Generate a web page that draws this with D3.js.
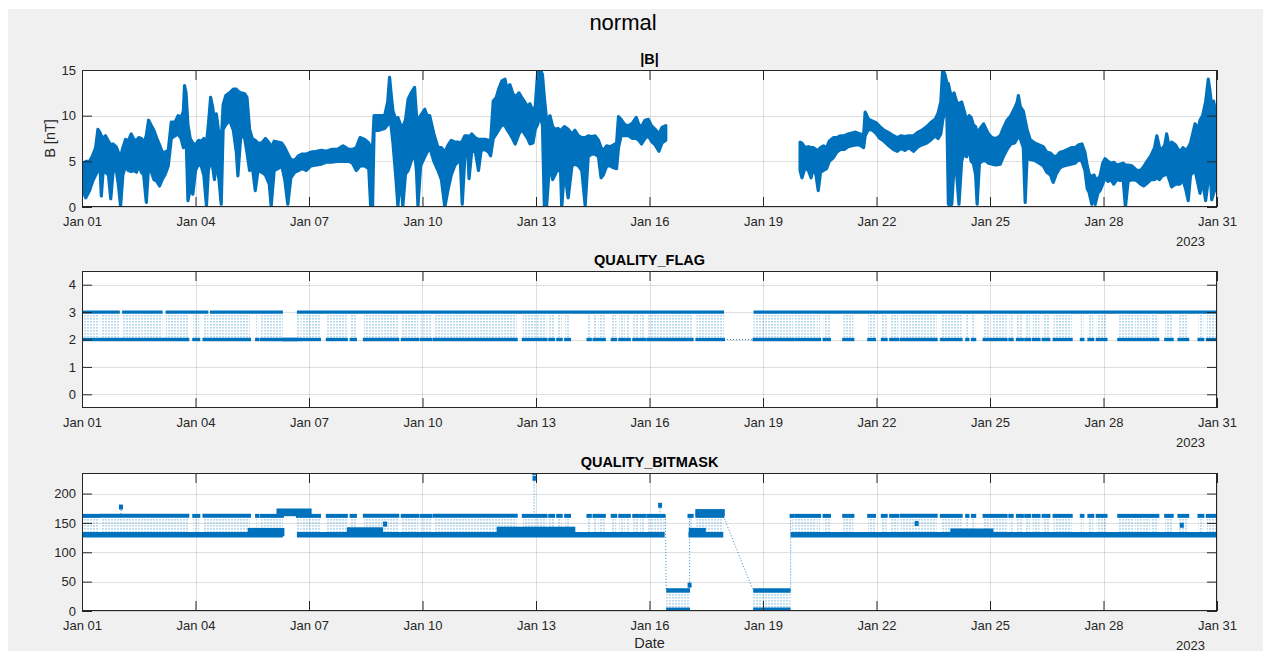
<!DOCTYPE html>
<html><head><meta charset="utf-8">
<script src="https://cdn.jsdelivr.net/npm/d3@7"></script>
<style>
body{margin:0;background:#fff;}
svg{display:block;font-family:"Liberation Sans",Arial,Helvetica,sans-serif;}
</style>
</head><body>
<svg id="c" width="1271" height="659"></svg>
<script>
// ---------------- DATA ----------------
// x tick positions (days since 2023-01-01) and labels
const xTickDays = [0,3,6,9,12,15,18,21,24,27,30];
const xTickLabels = ["Jan 01","Jan 04","Jan 07","Jan 10","Jan 13","Jan 16","Jan 19","Jan 22","Jan 25","Jan 28","Jan 31"];
const yearLabel = "2023";
const bTicks = [0,5,10,15];
const flagTicks = [0,1,2,3,4];
const maskTicks = [0,50,100,150,200];

// |B| envelope [day, low, high] (nT) before the data gap
const bSegmentA = [
[0.00,2.5,4.9],[0.05,1.5,4.8],[0.10,1.0,5.0],[0.20,1.8,5.0],[0.28,2.8,5.6],[0.36,3.5,6.5],[0.42,4.0,8.5],[0.47,5.0,8.2],[0.51,1.2,7.8],[0.56,4.0,7.5],
[0.62,3.8,7.8],[0.70,3.5,7.2],[0.76,0.9,6.8],[0.82,3.8,6.9],[0.90,4.2,6.6],[0.96,2.5,6.0],[1.02,0.1,5.5],[1.08,3.5,6.5],[1.15,4.5,7.4],[1.22,4.0,7.2],
[1.30,3.9,8.0],[1.37,4.0,7.4],[1.44,3.8,7.3],[1.50,4.6,7.6],[1.57,3.8,7.5],[1.63,3.5,7.0],[1.70,0.5,7.8],[1.76,4.5,9.5],[1.82,4.0,9.0],[1.90,3.0,8.4],
[1.98,2.8,7.5],[2.05,2.3,6.8],[2.12,3.0,6.0],[2.20,3.6,6.0],[2.28,4.5,6.2],[2.36,7.5,9.3],[2.46,7.8,9.3],[2.54,8.0,10.0],[2.62,7.5,9.8],[2.68,6.5,10.5],
[2.71,9.0,13.3],[2.75,8.0,12.5],[2.80,0.7,9.0],[2.86,2.0,7.5],[2.93,1.4,7.0],[3.00,4.0,6.8],[3.08,4.7,7.3],[3.15,4.5,7.2],[3.22,3.5,7.5],[3.29,0.15,7.0],
[3.34,4.0,9.0],[3.40,5.0,12.0],[3.45,4.5,11.0],[3.50,3.0,9.5],[3.55,5.0,10.2],[3.62,3.0,8.0],[3.68,0.3,7.0],[3.73,8.5,11.2],[3.80,9.0,12.2],[3.90,9.5,12.5],
[4.00,8.4,12.9],[4.08,6.0,12.9],[4.12,3.4,12.7],[4.20,8.0,12.5],[4.30,7.5,12.4],[4.36,6.0,12.0],[4.43,4.0,8.5],[4.50,4.5,7.5],[4.58,1.8,7.3],[4.65,4.0,7.0],
[4.75,3.8,7.0],[4.85,3.5,7.5],[4.95,2.5,7.0],[5.00,0.1,6.5],[5.08,4.0,7.2],[5.18,4.2,7.1],[5.28,4.5,7.0],[5.36,3.0,6.5],[5.44,0.3,5.8],[5.52,3.2,5.2],
[5.62,3.8,5.1],[5.72,4.0,5.6],[5.82,4.2,5.8],[5.93,4.0,5.8],[6.05,4.5,6.0],[6.20,4.6,6.1],[6.33,4.7,6.2],[6.45,4.9,6.1],[6.59,4.9,6.3],[6.75,5.0,6.3],
[6.90,5.0,6.7],[7.05,5.0,6.3],[7.15,4.8,6.3],[7.25,4.0,6.5],[7.35,4.5,7.6],[7.47,4.5,7.4],[7.58,4.2,7.0],[7.63,0.1,6.5],[7.68,0.1,6.5],[7.72,8.4,10.0],
[7.85,8.4,10.0],[8.00,8.6,10.0],[8.08,9.0,11.5],[8.13,10.0,14.2],[8.18,8.5,12.0],[8.22,7.0,10.5],[8.30,3.0,9.5],[8.35,0.1,9.8],[8.42,3.6,9.0],[8.48,0.1,8.8],
[8.55,3.6,9.5],[8.62,4.0,11.8],[8.70,5.0,12.5],[8.79,6.0,13.1],[8.84,4.0,10.0],[8.88,0.1,9.5],[8.95,4.5,10.0],[9.06,5.5,10.7],[9.12,6.0,10.0],[9.19,6.5,10.0],
[9.30,5.0,8.0],[9.41,4.0,6.5],[9.50,3.0,6.5],[9.59,0.0,6.0],[9.68,2.0,6.8],[9.76,3.5,7.3],[9.86,4.6,7.1],[9.95,5.0,7.1],[10.00,5.0,7.0],[10.05,0.3,7.2],
[10.12,5.5,7.8],[10.20,6.0,7.8],[10.23,3.1,7.6],[10.30,6.0,8.0],[10.39,6.2,7.6],[10.48,4.0,7.4],[10.55,6.2,7.4],[10.65,6.3,7.4],[10.75,6.0,7.3],[10.80,5.6,7.2],
[10.87,7.5,11.6],[10.95,8.0,12.0],[11.02,8.5,13.0],[11.10,9.0,13.8],[11.18,8.9,14.0],[11.23,8.5,13.0],[11.31,8.0,13.4],[11.38,7.5,12.5],[11.45,6.9,12.0],[11.55,8.0,12.5],
[11.62,8.5,12.0],[11.70,8.0,11.5],[11.78,7.5,11.0],[11.84,6.9,11.3],[11.92,7.0,10.5],[11.98,8.5,11.0],[12.04,9.0,14.5],[12.10,10.0,15.2],[12.17,9.0,14.5],[12.22,0.15,12.0],
[12.28,0.1,9.5],[12.33,3.0,9.8],[12.37,5.0,10.0],[12.44,3.0,8.8],[12.50,3.5,8.5],[12.58,4.2,8.6],[12.65,3.8,8.3],[12.68,0.0,8.5],[12.75,4.0,8.8],[12.85,1.0,8.5],
[12.95,4.5,8.0],[13.03,4.7,8.4],[13.12,4.5,7.8],[13.21,4.0,7.6],[13.30,0.15,7.6],[13.38,5.5,7.8],[13.47,5.8,7.7],[13.56,5.8,7.8],[13.65,5.5,7.3],[13.72,3.2,6.5],
[13.78,3.5,6.2],[13.87,4.5,6.7],[13.96,4.5,6.6],[14.05,4.3,6.8],[14.13,4.2,7.0],[14.18,6.5,9.9],[14.25,7.8,9.6],[14.35,7.8,9.0],[14.44,7.8,8.9],[14.55,7.5,9.2],
[14.65,7.5,9.8],[14.72,7.3,9.0],[14.79,6.9,8.8],[14.88,7.5,9.5],[14.97,7.8,9.6],[15.05,7.2,8.9],[15.15,6.8,8.5],[15.25,6.1,8.0],[15.33,7.0,8.7],[15.43,7.3,8.9]
];
// |B| envelope [day, low, high] (nT) after the data gap
const bSegmentB = [
[18.98,4.0,7.1],[19.03,3.2,7.0],[19.11,4.3,6.5],[19.20,4.0,6.6],[19.27,3.2,6.5],[19.33,4.3,6.5],[19.40,3.5,6.3],[19.46,1.8,6.2],[19.52,3.8,6.5],[19.60,4.0,6.7],
[19.68,4.2,6.5],[19.75,5.0,7.2],[19.86,5.4,7.6],[19.95,6.0,7.6],[20.05,6.3,7.8],[20.15,6.3,7.8],[20.25,6.6,8.0],[20.35,6.7,8.1],[20.45,6.8,8.2],[20.55,6.8,8.0],
[20.66,6.5,7.9],[20.70,7.8,10.4],[20.79,8.5,9.6],[20.90,8.4,9.4],[21.00,8.0,9.2],[21.09,7.5,8.8],[21.20,7.2,8.4],[21.30,6.8,8.2],[21.45,6.3,7.8],[21.55,6.1,7.6],
[21.65,6.4,7.8],[21.75,6.2,7.7],[21.85,6.5,7.8],[21.98,6.1,7.8],[22.10,6.6,8.2],[22.20,6.8,8.4],[22.33,7.0,8.8],[22.45,7.4,9.3],[22.55,7.8,9.6],[22.63,7.5,10.3],
[22.70,8.0,11.5],[22.75,9.5,15.1],[22.81,10.5,14.5],[22.86,10.2,13.6],[22.90,0.3,13.5],[22.95,0.2,12.5],[22.99,0.3,12.0],[23.05,4.5,12.5],[23.12,3.5,11.5],[23.18,0.3,11.3],
[23.25,5.0,11.5],[23.32,6.0,10.5],[23.38,5.5,9.5],[23.45,6.5,10.0],[23.50,5.0,9.8],[23.56,4.8,9.0],[23.62,3.5,8.8],[23.66,0.3,8.0],[23.72,4.8,8.5],[23.83,5.1,9.1],
[23.90,5.0,8.5],[23.96,4.8,8.0],[24.05,4.7,7.6],[24.15,4.6,7.5],[24.27,4.7,7.8],[24.35,5.5,8.6],[24.45,6.3,9.5],[24.55,6.9,10.0],[24.65,7.0,10.8],[24.72,7.5,11.5],
[24.75,8.0,12.2],[24.80,7.5,11.0],[24.88,6.5,10.5],[24.93,0.5,9.5],[24.98,5.5,8.5],[25.06,5.2,7.4],[25.18,5.1,7.0],[25.30,4.8,6.8],[25.41,4.5,6.6],[25.50,3.8,6.0],
[25.60,3.5,5.9],[25.67,2.7,5.6],[25.75,3.6,5.5],[25.85,4.3,6.0],[25.95,4.5,6.1],[26.05,4.6,6.3],[26.15,4.7,6.5],[26.25,4.8,6.5],[26.35,5.2,6.8],[26.43,5.0,6.9],
[26.51,4.0,6.0],[26.57,2.0,4.5],[26.62,1.6,3.6],[26.69,0.3,3.3],[26.75,1.4,3.5],[26.78,0.3,3.2],[26.85,1.5,3.0],[26.91,1.8,3.4],[26.98,2.5,4.8],[27.04,3.2,5.3],
[27.12,2.8,5.0],[27.20,3.0,4.8],[27.27,2.5,4.9],[27.35,3.0,4.6],[27.45,2.9,4.7],[27.52,3.0,4.8],[27.58,0.0,4.6],[27.65,2.8,4.6],[27.75,3.0,4.5],[27.88,2.9,4.0],
[27.98,2.5,4.0],[28.06,2.3,4.4],[28.15,2.6,5.0],[28.25,3.0,5.6],[28.35,3.0,6.5],[28.41,3.2,7.8],[28.48,3.0,6.5],[28.55,3.4,6.3],[28.62,3.5,6.8],[28.67,3.8,8.0],
[28.74,3.0,6.5],[28.80,2.2,7.1],[28.90,2.5,6.8],[29.02,2.5,6.0],[29.10,3.0,6.5],[29.17,2.0,6.2],[29.24,0.7,6.5],[29.30,3.5,7.0],[29.42,4.0,9.1],[29.50,2.5,8.5],
[29.55,1.5,9.5],[29.62,2.8,10.0],[29.70,0.7,11.5],[29.77,3.0,14.0],[29.82,4.0,12.5],[29.86,0.8,11.0],[29.91,1.5,11.6],[29.96,2.0,10.5],[30.00,3.5,9.0]
];

// QUALITY_FLAG: spans [startDay, endDay]
const flagThreeSpans = [[0,1.0],[1.06,2.13],[2.21,3.34],[3.38,5.31],[5.68,16.97],[17.75,30]];
const flagTwoOnlySpans = [[5.31,5.68]];
const flagMixedSpans = [
[0.02,0.46],[0.50,2.81],[2.94,3.10],[3.21,4.44],[4.60,4.66],[4.72,5.78],[5.80,6.29],[6.47,7.00],[7.10,7.24],[7.45,8.36],
[8.45,8.89],[8.95,9.24],[9.30,11.49],[11.65,12.28],[12.35,12.48],[12.56,12.68],[12.77,12.90],[13.36,13.45],[13.52,13.61],[13.65,13.82],
[14.00,14.12],[14.20,14.35],[14.40,14.48],[14.57,14.70],[14.75,14.88],[14.94,16.14],[16.24,16.97],[17.75,18.80],[18.85,19.38],[19.42,19.51],
[19.60,19.77],[20.12,20.39],[20.78,20.96],[21.14,21.27],[21.36,21.58],[21.64,22.59],[22.70,23.25],[23.37,23.43],[23.52,23.61],[23.83,24.00],
[24.05,24.44],[24.51,24.60],[24.71,24.87],[24.93,25.06],[25.13,25.31],[25.39,25.57],[25.68,26.16],[26.40,26.47],[26.60,26.73],[26.82,27.08],
[27.39,27.79],[27.83,28.01],[28.05,28.23],[28.27,28.45],[28.63,28.83],[28.98,29.24],[29.51,29.64],[29.73,30.00]
];
// dotted connection across the data gap [day0, v0, day1, v1]
const flagLinks = [[16.97,2,17.75,2]];

// QUALITY_BITMASK
const maskBaseLevel = [130];
const maskUpperLevel = [162];
const maskBaseSpans = [[0,5.31],[5.68,15.40],[16.03,16.95],[18.73,30]];
// solid blocks [day0, day1, low, high]
const maskBlocks = [
[4.42,5.31,130,139],[7.04,7.92,130,140],[11.00,13.00,130,141],[16.08,16.45,130,139],[22.99,24.05,130,138],
[5.18,6.03,164,172],[16.25,16.95,164,171]
];
// mixed low blocks [day0, day1, low, high]
const maskLowBlocks = [[15.44,16.07,2,35],[17.74,18.73,2,35]];
// isolated points [day, value]
const maskPoints = [[1.03,177],[8.01,148],[11.95,236],[11.96,226],[15.28,180],[16.06,44],[22.06,149],[29.07,146]];
// dotted connections [day0, v0, day1, v1]
const maskLinks = [[1.03,177,1.03,162],[11.95,236,11.95,162],[15.28,180,15.28,162],[15.42,162,15.44,35],[16.06,44,16.06,162],[16.95,162,17.74,35],[18.73,35,18.73,162]];

// ---------------- DRAWING ----------------
const BLUE = "#0072BD", INK = "#262626";
const svg = d3.select("#c");
const T0 = Date.UTC(2023,0,1);
const toDate = d => new Date(T0 + d*864e5);
const x = d3.scaleUtc().domain([toDate(0), toDate(30)]).range([82, 1217]);
const X = d => x(toDate(d));
const L = 82, R = 1217;

svg.append("rect").attr("x",8).attr("y",9).attr("width",1255).attr("height",642).attr("fill","#f0f0f0");

const defs = svg.append("defs");
const pat = defs.append("pattern").attr("id","hatch").attr("patternUnits","userSpaceOnUse")
  .attr("width",3).attr("height",3);
pat.append("rect").attr("x",0.5).attr("y",0).attr("width",1).attr("height",1.6).attr("fill",BLUE).attr("opacity",0.55);

svg.append("text").attr("x",623).attr("y",30).attr("text-anchor","middle")
  .attr("font-size",22).attr("fill","#000").text("normal");

function panel(top, h, domain, ticks, title, idx){
  const y = d3.scaleLinear().domain(domain).range([top+h, top]);
  const g = svg.append("g");
  g.append("rect").attr("x",L).attr("y",top).attr("width",R-L).attr("height",h).attr("fill","#fff");
  // grid
  g.selectAll(".gx").data(xTickDays).join("line")
    .attr("x1",d=>Math.round(X(d))+0.5).attr("x2",d=>Math.round(X(d))+0.5)
    .attr("y1",top).attr("y2",top+h).attr("stroke",INK).attr("stroke-opacity",0.15);
  g.selectAll(".gy").data(ticks).join("line")
    .attr("y1",d=>Math.round(y(d))+0.5).attr("y2",d=>Math.round(y(d))+0.5)
    .attr("x1",L).attr("x2",R).attr("stroke",INK).attr("stroke-opacity",0.15);
  defs.append("clipPath").attr("id","clip"+idx).append("rect")
    .attr("x",L).attr("y",top).attr("width",R-L).attr("height",h);
  const data = g.append("g").attr("clip-path",`url(#clip${idx})`);
  // axes
  const ax = svg.append("g");
  ax.append("g").attr("transform",`translate(0,${top+h})`)
    .call(d3.axisBottom(x).tickValues(xTickDays.map(toDate)).tickFormat((d,i)=>xTickLabels[i]).tickSizeInner(-10).tickSizeOuter(0).tickPadding(10));
  ax.append("g").attr("transform",`translate(0,${top})`)
    .call(d3.axisTop(x).tickValues(xTickDays.map(toDate)).tickFormat("").tickSizeInner(-10).tickSizeOuter(0));
  ax.append("g").attr("transform",`translate(${L},0)`)
    .call(d3.axisLeft(y).tickValues(ticks).tickFormat(d3.format("d")).tickSizeInner(-10).tickSizeOuter(0).tickPadding(6));
  ax.append("g").attr("transform",`translate(${R},0)`)
    .call(d3.axisRight(y).tickValues(ticks).tickFormat("").tickSizeInner(-10).tickSizeOuter(0));
  ax.selectAll(".domain").remove();
  ax.selectAll(".tick line").attr("stroke",INK);
  ax.selectAll("text").attr("font-size",13).attr("fill",INK).attr("font-family",'"Liberation Sans",Arial,sans-serif');
  ax.append("rect").attr("x",L+0.5).attr("y",top+0.5).attr("width",R-L-1).attr("height",h-1)
    .attr("fill","none").attr("stroke",INK).attr("stroke-width",1);
  ax.append("text").attr("x",1205).attr("y",top+h+38.5).attr("text-anchor","end")
    .attr("font-size",13).attr("fill",INK).text(yearLabel);
  svg.append("text").attr("x",(L+R)/2).attr("y",top-6).attr("text-anchor","middle")
    .attr("font-size",14.5).attr("font-weight","bold").attr("fill","#000").text(title);
  return {y, data};
}

// ----- panel 1: |B|
{
  const {y, data} = panel(70, 137, [0,15], bTicks, "|B|", 1);
  const area = d3.area().x(d=>X(d[0])).y0(d=>y(d[1])).y1(d=>y(d[2]));
  [bSegmentA, bSegmentB].forEach(seg=>{
    data.append("path").attr("d",area(seg)).attr("fill",BLUE).attr("stroke",BLUE)
      .attr("stroke-width",3.2).attr("stroke-linejoin","round");
  });
  svg.append("text").attr("transform","translate(55,138.5) rotate(-90)").attr("text-anchor","middle")
    .attr("font-size",14.5).attr("fill",INK).text("B [nT]");
}

function intersect(a, b){
  const out=[];
  a.forEach(s=>b.forEach(t=>{const s0=Math.max(s[0],t[0]), s1=Math.min(s[1],t[1]); if(s1>s0) out.push([s0,s1]);}));
  return out;
}

// ----- panel 2: QUALITY_FLAG
{
  const {y, data} = panel(271, 137, [-0.5,4.5], flagTicks, "QUALITY_FLAG", 2);
  intersect(flagMixedSpans, flagThreeSpans).forEach(s=>{
    data.append("rect").attr("x",X(s[0])).attr("width",Math.max(1,X(s[1])-X(s[0])))
      .attr("y",y(3)+2).attr("height",y(2)-y(3)-4).attr("fill","url(#hatch)");
  });
  flagLinks.forEach(k=>{
    data.append("line").attr("x1",X(k[0])).attr("y1",y(k[1])).attr("x2",X(k[2])).attr("y2",y(k[3]))
      .attr("stroke",BLUE).attr("stroke-dasharray","1,2").attr("stroke-opacity",0.8);
  });
  flagThreeSpans.forEach(s=>{
    data.append("line").attr("x1",X(s[0])).attr("x2",X(s[1])).attr("y1",y(3)).attr("y2",y(3))
      .attr("stroke",BLUE).attr("stroke-width",3.4);
  });
  flagMixedSpans.concat(flagTwoOnlySpans).forEach(s=>{
    data.append("line").attr("x1",X(s[0])-1).attr("x2",X(s[1])+1).attr("y1",y(2)).attr("y2",y(2))
      .attr("stroke",BLUE).attr("stroke-width",3.4);
  });
}

// ----- panel 3: QUALITY_BITMASK
{
  const {y, data} = panel(473, 138, [0,235], maskTicks, "QUALITY_BITMASK", 3);
  const up = maskUpperLevel[0], base = maskBaseLevel[0];
  const upperSpans = intersect(flagMixedSpans, maskBaseSpans);
  upperSpans.forEach(s=>{
    data.append("rect").attr("x",X(s[0])).attr("width",Math.max(1,X(s[1])-X(s[0])))
      .attr("y",y(up)+2).attr("height",y(base)-y(up)-4).attr("fill","url(#hatch)");
  });
  maskLowBlocks.forEach(b=>{
    data.append("rect").attr("x",X(b[0])).attr("width",X(b[1])-X(b[0]))
      .attr("y",y(b[3])+2).attr("height",y(b[2])-y(b[3])-4).attr("fill","url(#hatch)");
    [b[2],b[3]].forEach(v=>data.append("line").attr("x1",X(b[0])).attr("x2",X(b[1]))
      .attr("y1",y(v)).attr("y2",y(v)).attr("stroke",BLUE).attr("stroke-width",4.5));
  });
  maskLinks.forEach(k=>{
    data.append("line").attr("x1",X(k[0])).attr("y1",y(k[1])).attr("x2",X(k[2])).attr("y2",y(k[3]))
      .attr("stroke",BLUE).attr("stroke-dasharray","1,2").attr("stroke-opacity",0.8);
  });
  maskBaseSpans.forEach(s=>{
    data.append("line").attr("x1",X(s[0])).attr("x2",X(s[1])).attr("y1",y(base)).attr("y2",y(base))
      .attr("stroke",BLUE).attr("stroke-width",5.5);
  });
  upperSpans.forEach(s=>{
    data.append("line").attr("x1",X(s[0])-1).attr("x2",X(s[1])+1).attr("y1",y(up)).attr("y2",y(up))
      .attr("stroke",BLUE).attr("stroke-width",4);
  });
  maskBlocks.forEach(b=>{
    data.append("rect").attr("x",X(b[0])).attr("width",X(b[1])-X(b[0]))
      .attr("y",y(b[3])).attr("height",y(b[2])-y(b[3])).attr("fill",BLUE).attr("stroke",BLUE).attr("stroke-width",3);
  });
  maskPoints.forEach(p=>{
    data.append("rect").attr("x",X(p[0])-2).attr("y",y(p[1])-2.5).attr("width",4).attr("height",5).attr("fill",BLUE);
  });
  svg.append("text").attr("x",(L+R)/2).attr("y",648).attr("text-anchor","middle")
    .attr("font-size",14.5).attr("fill",INK).text("Date");
}
</script>
</body></html>
